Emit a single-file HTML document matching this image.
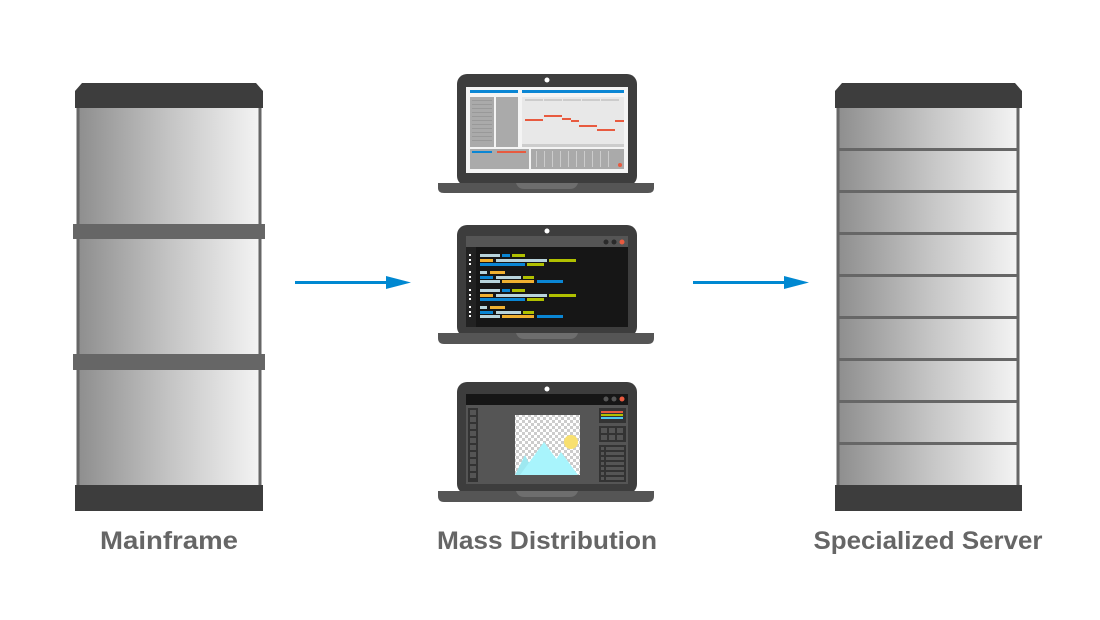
<!DOCTYPE html>
<html><head><meta charset="utf-8"><style>
html,body{margin:0;padding:0;background:#fff;}
svg{display:block}
text{font-family:"Liberation Sans",sans-serif;font-weight:bold;fill:#666;font-size:25px}
</style></head><body>
<svg width="1100" height="620" viewBox="0 0 1100 620" xmlns="http://www.w3.org/2000/svg">
<defs>
<linearGradient id="g" x1="0" x2="1" y1="0" y2="0"><stop offset="0" stop-color="#8e8e8e"/><stop offset="0.5" stop-color="#c4c4c4"/><stop offset="1" stop-color="#f4f4f4"/></linearGradient>
<pattern id="chk" width="6" height="6" patternUnits="userSpaceOnUse"><rect width="6" height="6" fill="#fff"/><rect width="3" height="3" fill="#ccc"/><rect x="3" y="3" width="3" height="3" fill="#ccc"/></pattern>
</defs>

<!-- Mainframe -->
<rect x="78" y="106" width="182" height="381" fill="url(#g)" stroke="#666" stroke-width="3"/>
<polygon points="82,83 256,83 263,91 263,108 75,108 75,91" fill="#3d3d3d"/>
<rect x="73" y="224" width="192" height="15" fill="#666"/>
<rect x="73" y="354" width="192" height="16" fill="#666"/>
<rect x="75" y="485" width="188" height="26" fill="#3d3d3d"/>

<!-- Server -->
<rect x="838" y="106" width="180" height="381" fill="url(#g)" stroke="#666" stroke-width="3"/>
<polygon points="842,83 1015,83 1022,91 1022,108 835,108 835,91" fill="#3d3d3d"/>
<g fill="#666">
<rect x="838" y="148" width="180" height="3"/><rect x="838" y="190" width="180" height="3"/>
<rect x="838" y="232" width="180" height="3"/><rect x="838" y="274" width="180" height="3"/>
<rect x="838" y="316" width="180" height="3"/><rect x="838" y="358" width="180" height="3"/>
<rect x="838" y="400" width="180" height="3"/><rect x="838" y="442" width="180" height="3"/>
</g>
<rect x="835" y="485" width="187" height="26" fill="#3d3d3d"/>

<!-- Arrows -->
<rect x="295" y="281" width="93" height="3" fill="#0088d1"/>
<polygon points="386,276 411,282.5 386,289" fill="#0088d1"/>
<rect x="693" y="281" width="93" height="3" fill="#0088d1"/>
<polygon points="784,276 809,282.5 784,289" fill="#0088d1"/>

<!-- Laptop 1 -->
<rect x="457" y="74" width="180" height="112" rx="10" fill="#3d3d3d"/>
<circle cx="547" cy="80" r="2.5" fill="#fff"/>
<path d="M438,183 H654 V188 Q654,193 648,193 H444 Q438,193 438,188 Z" fill="#555"/>
<path d="M516,183 H578 Q576,189 570,189 H524 Q518,189 516,183 Z" fill="#6e6e6e"/>
<rect x="466" y="87" width="162" height="86" fill="#f4f4f4"/>
<rect x="470" y="90" width="48" height="3" fill="#0a86d4"/>
<rect x="522" y="90" width="102" height="3" fill="#0a86d4"/>
<rect x="470" y="97" width="24" height="50" fill="#aaa"/>
<rect x="496" y="97" width="22" height="50" fill="#aaa"/>
<g fill="#999"><rect x="472" y="100" width="20" height="1"/><rect x="472" y="104" width="20" height="1"/><rect x="472" y="108" width="20" height="1"/><rect x="472" y="112" width="20" height="1"/><rect x="472" y="116" width="20" height="1"/><rect x="472" y="120" width="20" height="1"/><rect x="472" y="124" width="20" height="1"/><rect x="472" y="128" width="20" height="1"/><rect x="472" y="132" width="20" height="1"/><rect x="472" y="136" width="20" height="1"/><rect x="472" y="140" width="20" height="1"/></g>
<rect x="522" y="97" width="102" height="50" fill="#e8e8e8"/>
<rect x="522" y="144" width="102" height="3" fill="#ccc"/>
<g fill="#ccc"><rect x="525" y="99" width="18" height="2"/><rect x="544" y="99" width="18" height="2"/><rect x="563" y="99" width="18" height="2"/><rect x="582" y="99" width="18" height="2"/><rect x="601" y="99" width="18" height="2"/></g>
<g fill="#e85a3f"><rect x="525" y="119" width="18" height="2"/><rect x="544" y="115" width="18" height="2"/><rect x="562" y="118" width="9" height="2"/><rect x="571" y="120" width="8" height="2"/><rect x="579" y="125" width="18" height="2"/><rect x="597" y="129" width="18" height="2"/><rect x="615" y="120" width="9" height="2"/></g>
<rect x="470" y="149" width="59" height="20" fill="#aaa"/>
<rect x="472" y="151" width="20" height="2" fill="#0a86d4"/>
<rect x="497" y="151" width="29" height="2" fill="#e85a3f"/>
<rect x="531" y="149" width="93" height="20" fill="#aaa"/>
<g fill="#ccc"><rect x="536" y="151" width="1" height="16"/><rect x="544" y="151" width="1" height="16"/><rect x="552" y="151" width="1" height="16"/><rect x="560" y="151" width="1" height="16"/><rect x="568" y="151" width="1" height="16"/><rect x="576" y="151" width="1" height="16"/><rect x="584" y="151" width="1" height="16"/><rect x="592" y="151" width="1" height="16"/><rect x="600" y="151" width="1" height="16"/><rect x="608" y="151" width="1" height="16"/></g>
<circle cx="620" cy="165" r="2" fill="#e85a3f"/>

<!-- Laptop 2 -->
<rect x="457" y="225" width="180" height="112" rx="10" fill="#3d3d3d"/>
<circle cx="547" cy="231" r="2.5" fill="#fff"/>
<path d="M438,333 H654 V338 Q654,344 648,344 H444 Q438,344 438,338 Z" fill="#555"/>
<path d="M516,333 H578 Q576,339 570,339 H524 Q518,339 516,333 Z" fill="#6e6e6e"/>
<rect x="466" y="236" width="162" height="91" fill="#161616"/>
<rect x="466" y="236" width="162" height="11" fill="#555"/>
<circle cx="606" cy="242" r="2.5" fill="#2a2a2a"/><circle cx="614" cy="242" r="2.5" fill="#2a2a2a"/><circle cx="622" cy="242" r="2.5" fill="#e85a3f"/>
<rect x="466" y="247" width="10" height="80" fill="#222"/>
<g id="code">
<g fill="#fff"><rect x="469" y="254" width="2" height="2"/><rect x="469" y="259" width="2" height="2"/><rect x="469" y="263" width="2" height="2"/><rect x="469" y="271" width="2" height="2"/><rect x="469" y="276" width="2" height="2"/><rect x="469" y="280" width="2" height="2"/></g>
<rect x="480" y="254" width="20" height="3" fill="#b8d4dc"/><rect x="502" y="254" width="8" height="3" fill="#0a86d4"/><rect x="512" y="254" width="13" height="3" fill="#b0c000"/>
<rect x="480" y="259" width="13" height="3" fill="#f0b030"/><rect x="496" y="259" width="51" height="3" fill="#b8d4dc"/><rect x="549" y="259" width="27" height="3" fill="#b0c000"/>
<rect x="480" y="263" width="45" height="3" fill="#0a86d4"/><rect x="527" y="263" width="17" height="3" fill="#b0c000"/>
<rect x="480" y="271" width="7" height="3" fill="#b8d4dc"/><rect x="490" y="271" width="15" height="3" fill="#f0b030"/>
<rect x="480" y="276" width="13" height="3" fill="#0a86d4"/><rect x="496" y="276" width="25" height="3" fill="#b8d4dc"/><rect x="523" y="276" width="11" height="3" fill="#b0c000"/>
<rect x="480" y="280" width="20" height="3" fill="#b8d4dc"/><rect x="502" y="280" width="32" height="3" fill="#f0b030"/><rect x="537" y="280" width="26" height="3" fill="#0a86d4"/>
</g>
<use href="#code" y="35"/>

<!-- Laptop 3 -->
<rect x="457" y="382" width="180" height="112" rx="10" fill="#3d3d3d"/>
<circle cx="547" cy="389" r="2.5" fill="#fff"/>
<path d="M438,491 H654 V496 Q654,502 648,502 H444 Q438,502 438,496 Z" fill="#555"/>
<path d="M516,491 H578 Q576,497 570,497 H524 Q518,497 516,491 Z" fill="#6e6e6e"/>
<rect x="466" y="394" width="162" height="90" fill="#555"/>
<rect x="466" y="394" width="162" height="11" fill="#161616"/>
<circle cx="606" cy="399" r="2.5" fill="#555"/><circle cx="614" cy="399" r="2.5" fill="#555"/><circle cx="622" cy="399" r="2.5" fill="#e85a3f"/>
<rect x="468" y="408" width="10" height="74" fill="#333"/>
<g fill="#555"><rect x="470" y="410" width="6" height="5"/><rect x="470" y="417" width="6" height="5"/><rect x="470" y="424" width="6" height="5"/><rect x="470" y="431" width="6" height="5"/><rect x="470" y="438" width="6" height="5"/><rect x="470" y="445" width="6" height="5"/><rect x="470" y="452" width="6" height="5"/><rect x="470" y="459" width="6" height="5"/><rect x="470" y="466" width="6" height="5"/><rect x="470" y="473" width="6" height="5"/></g>
<rect x="515" y="415" width="65" height="60" fill="url(#chk)"/>
<circle cx="571" cy="442" r="7" fill="#f8e070"/>
<polygon points="515,475 525,455 535,475" fill="#9ee8f0"/>
<polygon points="520,475 544,442 568,475" fill="#a8f4fc"/>
<polygon points="546,475 561,452 578,475" fill="#a8f4fc"/>
<rect x="599" y="408" width="27" height="15" fill="#333"/>
<rect x="601" y="411" width="22" height="2" fill="#e85a3f"/><rect x="601" y="414" width="22" height="2" fill="#b0c000"/><rect x="601" y="417" width="22" height="2" fill="#4ec8f0"/>
<rect x="599" y="426" width="27" height="16" fill="#333"/>
<g fill="#555"><rect x="601" y="428" width="6" height="5"/><rect x="609" y="428" width="6" height="5"/><rect x="617" y="428" width="6" height="5"/><rect x="601" y="435" width="6" height="5"/><rect x="609" y="435" width="6" height="5"/><rect x="617" y="435" width="6" height="5"/></g>
<rect x="599" y="445" width="27" height="37" fill="#333"/>
<g fill="#555"><rect x="601" y="447" width="3" height="3"/><rect x="606" y="447" width="18" height="3"/><rect x="601" y="452" width="3" height="3"/><rect x="606" y="452" width="18" height="3"/><rect x="601" y="457" width="3" height="3"/><rect x="606" y="457" width="18" height="3"/><rect x="601" y="462" width="3" height="3"/><rect x="606" y="462" width="18" height="3"/><rect x="601" y="467" width="3" height="3"/><rect x="606" y="467" width="18" height="3"/><rect x="601" y="472" width="3" height="3"/><rect x="606" y="472" width="18" height="3"/><rect x="601" y="477" width="3" height="3"/><rect x="606" y="477" width="18" height="3"/></g>

<!-- Labels -->
<text x="169" y="549" text-anchor="middle" textLength="138" lengthAdjust="spacingAndGlyphs">Mainframe</text>
<text x="547" y="549" text-anchor="middle" textLength="220" lengthAdjust="spacingAndGlyphs">Mass Distribution</text>
<text x="928" y="549" text-anchor="middle" textLength="229" lengthAdjust="spacingAndGlyphs">Specialized Server</text>
</svg>
</body></html>
